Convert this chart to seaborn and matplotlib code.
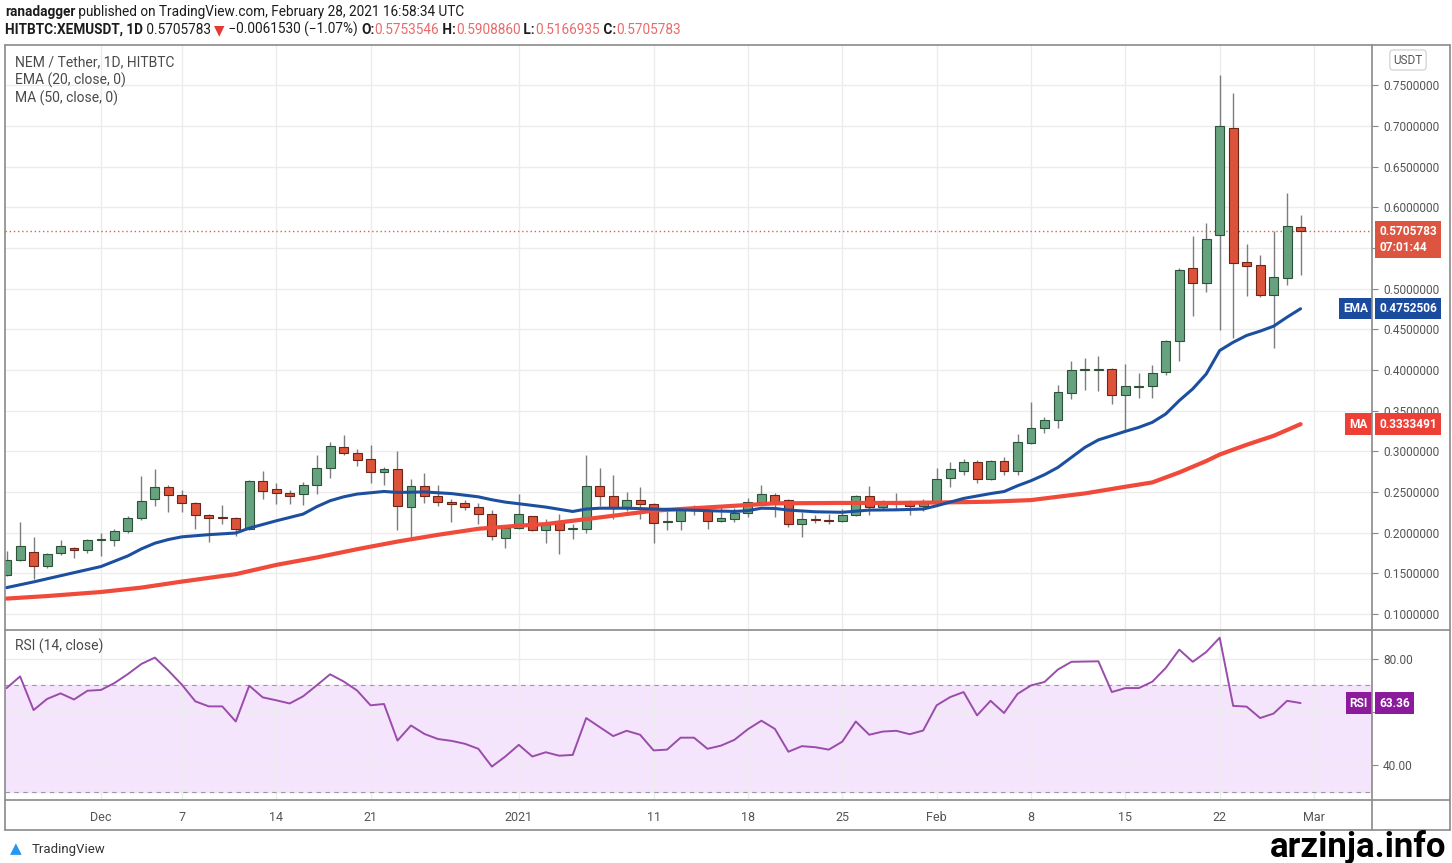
import pandas as pd
import matplotlib
matplotlib.use('Agg')
import matplotlib.pyplot as plt
from matplotlib.lines import Line2D
import seaborn as sns

# daily candles, 2020-11-24 .. 2021-02-28 (one row per week)
dates = pd.date_range('2020-11-24', '2021-02-28', freq='D')
opens = [.148, .166, .176, .159, .175, .1817, .179,
         .1905, .1915, .202, .218, .241, .256, .246,
         .236, .2215, .218, .218, .205, .263, .2535,
         .2486, .248, .259, .279, .3057, .298, .291,
         .275, .278, .231, .257, .245, .238, .236,
         .231, .223, .193, .206, .220, .203, .2117,
         .2045, .205, .257, .245, .231, .240, .235,
         .2135, .2145, .231, .228, .2137, .2166, .224,
         .238, .2466, .240, .2112, .2166, .2157, .2137,
         .2215, .245, .231, .2350, .238, .233, .236,
         .267, .276, .287, .266, .288, .276, .310,
         .329, .338, .3713, .3995, .400, .4007, .3697,
         .3795, .380, .398, .435, .5253, .507, .5655,
         .698, .533, .5294, .4925, .5134, .5753546]
highs = [.178, .213, .195, .175, .191, .182, .192,
         .199, .204, .220, .269, .278, .258, .252,
         .238, .223, .234, .219, .265, .276, .2605,
         .2525, .2626, .2954, .312, .3204, .303, .3077,
         .2805, .300, .266, .2733, .259, .241, .240,
         .236, .228, .2095, .247, .221, .2166, .2228,
         .211, .295, .2794, .2708, .250, .2564, .237,
         .228, .230, .234, .230, .233, .230, .2425,
         .259, .249, .241, .225, .222, .2228, .229,
         .2466, .2568, .2404, .249, .240, .241, .2794,
         .2872, .290, .289, .289, .2933, .3213, .360,
         .342, .382, .4107, .4149, .4177, .403, .4075,
         .396, .4055, .437, .525, .5643, .5807, .7626,
         .740, .5553, .5409, .5708, .6176, .590886]
lows = [.147, .165, .143, .157, .172, .169, .175,
        .171, .184, .199, .216, .233, .2256, .2256,
        .205, .188, .2105, .196, .203, .241, .235,
        .235, .234, .247, .267, .2954, .2819, .2605,
        .2585, .203, .195, .237, .233, .2133, .228,
        .2105, .1907, .181, .205, .202, .187, .174,
        .1927, .200, .233, .2166, .2265, .2166, .187,
        .2035, .2035, .2215, .2047, .2125, .2125, .2187,
        .235, .2195, .2071, .195, .212, .2112, .213,
        .220, .2215, .2277, .229, .222, .2265, .235,
        .2555, .2712, .2605, .265, .2712, .271, .309,
        .322, .3287, .3644, .3755, .374, .3582, .3254,
        .3656, .365, .394, .4116, .4658, .4957, .4485,
        .439, .4908, .4895, .4272, .504, .5166935]
closes = [.166, .183, .159, .1735, .183, .179, .1907,
          .192, .2026, .218, .239, .256, .246, .236,
          .2215, .2174, .2178, .2047, .263, .2515, .2486,
          .245, .259, .280, .306, .298, .2893, .275,
          .278, .233, .257, .245, .238, .235, .231,
          .223, .196, .206, .223, .2034, .210, .203,
          .2055, .257, .245, .230, .240, .2346, .2124,
          .2145, .229, .2277, .2145, .218, .224, .238,
          .248, .238, .2112, .2166, .215, .2141, .2215,
          .245, .231, .2346, .2358, .2322, .237, .266,
          .278, .287, .266, .2884, .276, .311, .329,
          .338, .3725, .400, .4005, .401, .3697, .380,
          .3805, .396, .435, .5224, .5068, .5614, .700,
          .532, .5273, .4925, .5142, .5767, .5705783]
rsi = [69.0, 73.4, 60.7, 64.9, 67.0, 64.7, 68.0,
       68.3, 70.9, 74.3, 78.1, 80.5, 75.6, 70.3,
       64.0, 62.1, 62.1, 56.4, 69.9, 65.5, 64.4,
       63.2, 65.9, 70.0, 74.2, 71.5, 68.1, 62.5,
       63.0, 49.2, 54.9, 51.7, 49.8, 49.1, 48.0,
       46.1, 39.4, 43.2, 47.6, 43.2, 44.8, 43.5,
       43.8, 57.7, 54.3, 50.9, 52.9, 51.4, 45.5,
       45.8, 50.3, 50.3, 46.1, 47.3, 49.5, 53.5,
       56.7, 53.6, 45.0, 47.1, 46.7, 45.8, 48.8,
       56.4, 51.4, 52.6, 52.9, 51.6, 53.0, 62.5,
       65.6, 67.5, 58.7, 64.2, 59.6, 66.8, 70.0,
       71.3, 76.0, 78.9, 79.0, 79.1, 67.5, 69.0,
       69.0, 71.4, 76.6, 83.5, 78.9, 82.6, 88.0,
       62.3, 62.0, 57.7, 59.4, 64.2, 63.36]

# EMA(20)
ema_dates = ['2020-11-24', '2020-11-26', '2020-11-28', '2020-12-01', '2020-12-03', '2020-12-04',
             '2020-12-05', '2020-12-06', '2020-12-07', '2020-12-09', '2020-12-11', '2020-12-12',
             '2020-12-14', '2020-12-16', '2020-12-17', '2020-12-18', '2020-12-19', '2020-12-20',
             '2020-12-21', '2020-12-22', '2020-12-23', '2020-12-25', '2020-12-27', '2020-12-29',
             '2020-12-30', '2020-12-31', '2021-01-01', '2021-01-03', '2021-01-05', '2021-01-06',
             '2021-01-07', '2021-01-09', '2021-01-11', '2021-01-13', '2021-01-15', '2021-01-17',
             '2021-01-18', '2021-01-19', '2021-01-20', '2021-01-21', '2021-01-23', '2021-01-25',
             '2021-01-27', '2021-01-29', '2021-01-31', '2021-02-01', '2021-02-03', '2021-02-05',
             '2021-02-06', '2021-02-07', '2021-02-08', '2021-02-09', '2021-02-10', '2021-02-11',
             '2021-02-12', '2021-02-13', '2021-02-14', '2021-02-15', '2021-02-16', '2021-02-17',
             '2021-02-18', '2021-02-19', '2021-02-20', '2021-02-21', '2021-02-22', '2021-02-23',
             '2021-02-24', '2021-02-25', '2021-02-26', '2021-02-27', '2021-02-28']
ema_vals = [.1324, .1394, .1470, .1583, .1714, .1800,
            .1870, .1915, .1948, .1975, .1995, .2055,
            .2145, .2228, .2318, .2392, .2440, .2474,
            .2490, .2506, .2494, .2500, .2480, .2440,
            .2404, .2375, .2355, .2314, .2260, .2290,
            .2300, .2300, .2290, .2280, .2270, .2260,
            .2270, .2300, .2297, .2277, .2256, .2250,
            .2277, .2280, .2290, .2330, .2420, .2480,
            .2505, .2576, .2638, .2712, .2802, .2925,
            .3048, .3140, .3192, .3245, .3294, .3356,
            .3459, .3623, .3767, .3950, .4239, .4340,
            .4424, .4477, .4538, .4649, .4752506]

# MA(50)
ma_dates = ['2020-11-24', '2020-11-27', '2020-12-01', '2020-12-04', '2020-12-07', '2020-12-11',
            '2020-12-14', '2020-12-17', '2020-12-20', '2020-12-23', '2020-12-26', '2020-12-29',
            '2021-01-01', '2021-01-03', '2021-01-06', '2021-01-09', '2021-01-11', '2021-01-14',
            '2021-01-17', '2021-01-20', '2021-01-25', '2021-01-29', '2021-02-01', '2021-02-05',
            '2021-02-08', '2021-02-12', '2021-02-15', '2021-02-17', '2021-02-19', '2021-02-21',
            '2021-02-22', '2021-02-24', '2021-02-26', '2021-02-28']
ma_vals = [.1189, .1220, .1270, .1324, .1398, .1489,
           .1603, .1694, .1796, .1890, .1973, .2047,
           .2085, .2105, .2166, .2228, .2270, .2300,
           .2330, .2360, .2365, .2365, .2370, .2380,
           .2400, .2482, .2564, .2617, .2740, .2880,
           .2960, .3080, .3190, .3333491]

price_ticks = [0.10, 0.15, 0.20, 0.25, 0.30, 0.35, 0.40, 0.45, 0.50, 0.55, 0.60, 0.65, 0.70, 0.75]
hidden_price_ticks = [0.55]  # covered by the last-price tag
rsi_ticks = [40, 60, 80]
rsi_tick_labels = ['40.00', '', '80.00']  # 60.00 sits under the RSI tag
date_ticks = ['2020-12-01', '2020-12-07', '2020-12-14', '2020-12-21', '2021-01-01', '2021-01-11',
              '2021-01-18', '2021-01-25', '2021-02-01', '2021-02-08', '2021-02-15', '2021-02-22',
              '2021-03-01']
date_labels = ['Dec', '7', '14', '21', '2021', '11', '18', '25', 'Feb', '8', '15', '22', 'Mar']

last_price = 0.5705783
ema_last = 0.4752506
ma_last = 0.3333491
rsi_last = 63.36

sns.set_style('white')
plt.rcParams['font.family'] = ['Roboto', 'DejaVu Sans']

W, H = 1452, 863
fig = plt.figure(figsize=(W / 100, H / 100), dpi=100)


def fx(px):
    return px / W


def fy(py):
    return 1 - py / H


ax = fig.add_axes([fx(5), fy(629), fx(1372) - fx(5), fy(45) - fy(629)])
ax_rsi = fig.add_axes([fx(5), fy(800), fx(1372) - fx(5), fy(630) - fy(800)], sharex=ax)

df = pd.DataFrame({'date': dates, 'open': opens, 'high': highs, 'low': lows, 'close': closes})
up = df['close'] >= df['open']
body_lo = df[['open', 'close']].min(axis=1)
body_h = (df['close'] - df['open']).abs().clip(lower=0.0012)

ax.vlines(df['date'], df['low'], df['high'], color='#7d7d80', lw=1, zorder=2)
ax.bar(df['date'][up], body_h[up], bottom=body_lo[up], width=0.66,
       color='#67a27e', edgecolor='#2c5239', lw=0.8, zorder=3)
ax.bar(df['date'][~up], body_h[~up], bottom=body_lo[~up], width=0.66,
       color='#dd5339', edgecolor='#6d2517', lw=0.8, zorder=3)

sns.lineplot(x=pd.to_datetime(ma_dates), y=ma_vals, ax=ax, color='#f04a3b', lw=3.0, zorder=4)
sns.lineplot(x=pd.to_datetime(ema_dates), y=ema_vals, ax=ax, color='#1d4f9f', lw=2.2, zorder=5)
ax.axhline(last_price, color='#e0603f', lw=1, ls=(0, (1, 2)), zorder=1)

x0 = pd.Timestamp('2020-12-01')
xlim = (x0 - pd.Timedelta(days=7.12), x0 + pd.Timedelta(days=94.3))
ax.set_xlim(*xlim)
ax.set_ylim(0.0815, 0.7995)
ax.set_xlabel('')
ax.set_ylabel('')
ax.yaxis.tick_right()
ax.set_yticks(price_ticks)
ax.set_yticklabels(['' if v in hidden_price_ticks else f'{v:.7f}' for v in price_ticks])
ax.set_xticks(pd.to_datetime(date_ticks))
ax.tick_params(axis='x', labelbottom=False, length=0)
ax.tick_params(axis='y', direction='out', length=4, width=0.8, color='#888888',
               pad=4, labelsize=8.6, labelcolor='#555555')
ax.grid(True, color='#ececec', lw=1, zorder=0)
for s in ax.spines.values():
    s.set_visible(False)

# RSI pane
ax_rsi.axhspan(30, 70, color='#f4e5fc', zorder=0)
for lvl in [70, 30]:
    ax_rsi.axhline(lvl, color='#9a9a9a', lw=0.8, ls=(0, (4, 4)), zorder=1)
sns.lineplot(x=dates, y=rsi, ax=ax_rsi, color='#9a4cab', lw=1.4, zorder=3)
ax_rsi.set_ylim(26.8, 90.9)
ax_rsi.set_xlabel('')
ax_rsi.set_ylabel('')
ax_rsi.yaxis.tick_right()
ax_rsi.set_yticks(rsi_ticks)
ax_rsi.set_yticklabels(rsi_tick_labels)
ax_rsi.tick_params(axis='y', direction='out', length=4, width=0.8, color='#888888',
                   pad=4, labelsize=8.6, labelcolor='#555555')
ax_rsi.set_xticks(pd.to_datetime(date_ticks))
ax_rsi.set_xticklabels(date_labels)
ax_rsi.tick_params(axis='x', direction='out', length=4, width=0.8, color='#888888',
                   pad=4, labelsize=9, labelcolor='#555555')
ax_rsi.grid(True, color='#ececec', lw=1, zorder=0)
for s in ax_rsi.spines.values():
    s.set_visible(False)
ax_rsi.set_xlim(*xlim)

# frame lines
frame = '#8a8a8a'
for (xa, ya, xb, yb) in [(5, 45, 1450, 45), (5, 830, 1450, 830), (5, 45, 5, 830),
                         (1450, 45, 1450, 830), (1372, 45, 1372, 830),
                         (5, 629.5, 1450, 629.5), (5, 800, 1450, 800)]:
    fig.add_artist(Line2D([fx(xa), fx(xb)], [fy(ya), fy(yb)], color=frame, lw=1.2))

# pane legends
legend_kw = dict(fontsize=10, color='#4a4a4a', va='center')
fig.text(fx(15), fy(62), 'NEM / Tether, 1D, HITBTC', **legend_kw)
fig.text(fx(15), fy(80), 'EMA (20, close, 0)', **legend_kw)
fig.text(fx(15), fy(98), 'MA (50, close, 0)', **legend_kw)
fig.text(fx(15), fy(646), 'RSI (14, close)', **legend_kw)

# price scale tags
tag_kw = dict(fontsize=8.6, color='white', fontweight='bold', zorder=10, clip_on=False)
tr = ax.get_yaxis_transform()
ax.text(1.0 + 7 / 1367, last_price + 0.0075, f'{last_price:.7f}\n07:01:44', transform=tr,
        ha='left', va='top', linespacing=1.3,
        bbox=dict(boxstyle='square,pad=0.35', fc='#dd5440', ec='none'), **tag_kw)
ax.text(1.0 + 7 / 1367, ema_last, f'{ema_last:.7f}', transform=tr, ha='left', va='center',
        bbox=dict(boxstyle='square,pad=0.35', fc='#1a4b9e', ec='none'), **tag_kw)
ax.text(1.0 - 4 / 1367, ema_last, 'EMA', transform=tr, ha='right', va='center',
        bbox=dict(boxstyle='square,pad=0.35', fc='#1a4b9e', ec='none'), **tag_kw)
ax.text(1.0 + 7 / 1367, ma_last, f'{ma_last:.7f}', transform=tr, ha='left', va='center',
        bbox=dict(boxstyle='square,pad=0.35', fc='#ee3f36', ec='none'), **tag_kw)
ax.text(1.0 - 4 / 1367, ma_last, 'MA', transform=tr, ha='right', va='center',
        bbox=dict(boxstyle='square,pad=0.35', fc='#ee3f36', ec='none'), **tag_kw)
tr_r = ax_rsi.get_yaxis_transform()
ax_rsi.text(1.0 + 7 / 1367, rsi_last, f'{rsi_last:.2f}', transform=tr_r, ha='left', va='center',
            bbox=dict(boxstyle='square,pad=0.35', fc='#8b1a9c', ec='none'), **tag_kw)
ax_rsi.text(1.0 - 4 / 1367, rsi_last, 'RSI', transform=tr_r, ha='right', va='center',
            bbox=dict(boxstyle='square,pad=0.35', fc='#8b1a9c', ec='none'), **tag_kw)

fig.text(fx(1408), fy(60), 'USDT', fontsize=8.5, color='#555555', ha='center', va='center',
         bbox=dict(boxstyle='round,pad=0.3,rounding_size=0.3', fc='white', ec='#cccccc', lw=0.8))


# header, built segment by segment
def chain(segments, x, y, size):
    prev = fig.text(fx(x), fy(y), segments[0][0], fontsize=size, color=segments[0][1],
                    fontweight=segments[0][2], va='center')
    for txt, col, wt in segments[1:]:
        prev = ax.annotate(txt, xy=(1, 0), xycoords=prev, va='bottom', ha='left',
                           fontsize=size, color=col, fontweight=wt, annotation_clip=False)
    return prev


dark = '#1c1c1c'
pink = '#ea6b6b'
chain([('ranadagger', dark, 'bold'),
       (' published on TradingView.com, February 28, 2021 16:58:34 UTC', dark, 'normal')],
      5, 12, 9.8)
chain([('HITBTC:XEMUSDT, 1D', dark, 'bold'),
       (' 0.5705783 ', dark, 'normal'),
       ('\u25bc', '#e53935', 'normal'),
       (' \u22120.0061530 (\u22121.07%) ', dark, 'normal'),
       ('O:', dark, 'bold'), ('0.5753546', pink, 'normal'),
       (' H:', dark, 'bold'), ('0.5908860', pink, 'normal'),
       (' L:', dark, 'bold'), ('0.5166935', pink, 'normal'),
       (' C:', dark, 'bold'), ('0.5705783', pink, 'normal')], 5, 30, 9.8)

# footer
fig.text(fx(10), fy(849), '\u25b2', fontsize=11, color='#2196f3', va='center')
fig.text(fx(32), fy(849), 'TradingView', fontsize=9.5, color='#333333', va='center')
fig.text(fx(1446), fy(847), 'arzinja.info', fontsize=25, color='black', fontweight='bold',
         ha='right', va='center')

fig.savefig('out.png', dpi=100, facecolor='white')
